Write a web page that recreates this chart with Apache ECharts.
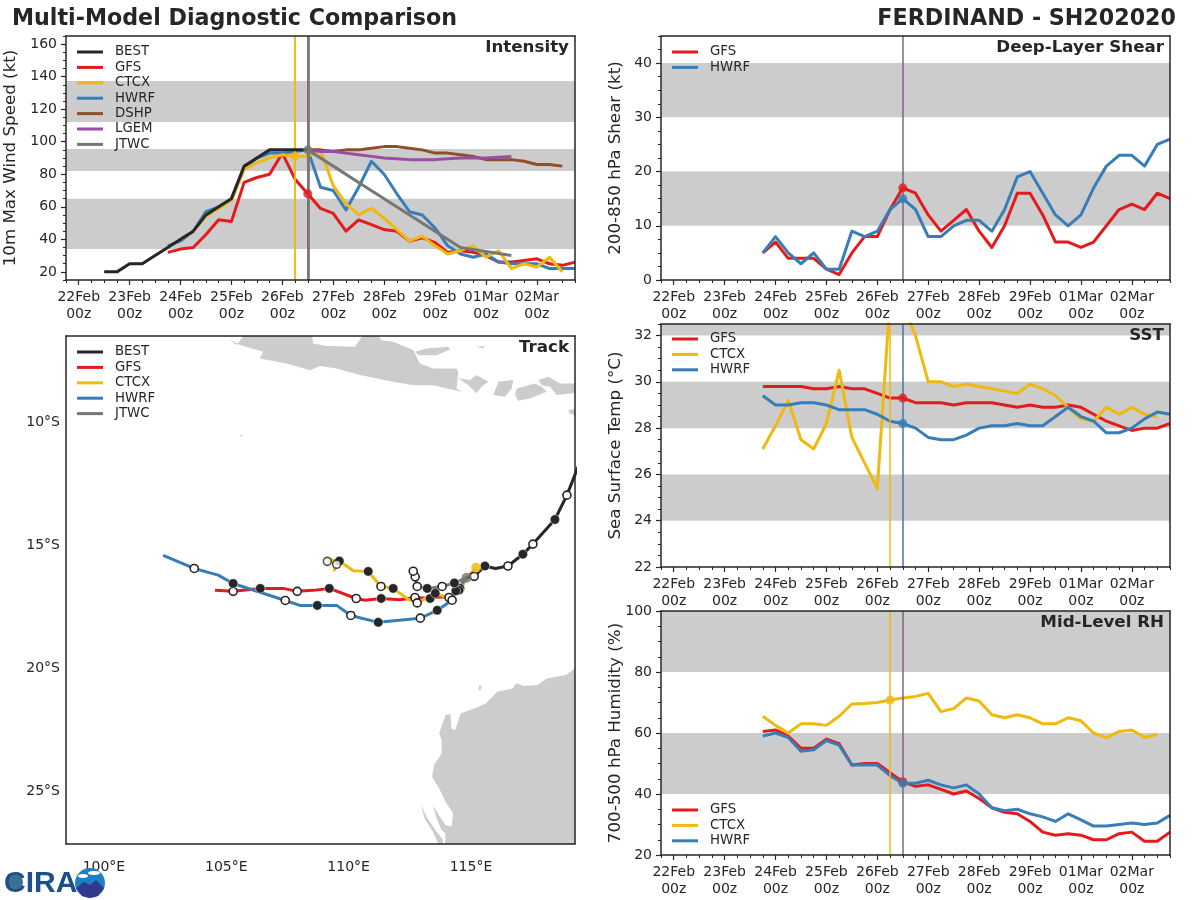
<!DOCTYPE html>
<html><head><meta charset="utf-8">
<style>html,body{margin:0;padding:0;background:#fff}#c{width:1200px;height:900px}</style>
<script src="https://cdn.jsdelivr.net/npm/echarts@6/dist/echarts.min.js"></script>
</head><body><div id="c"></div>
<script>
// ---------- time axis ----------
const dayLabels = ['22Feb','23Feb','24Feb','25Feb','26Feb','27Feb','28Feb','29Feb','01Mar','02Mar'];

// ---------- intensity (kt), six-hourly from the given start hour after 22Feb 00z ----------
const intBEST = [20,20,25,25,30,35,40,45,55,60,65,85,90,95,95,95,95];
const intGFS  = [32,34,35,43,52,51,75,78,80,93,77,68,59,56,45,52,49,46,45,39,41,38,32,33,32,30,26,26,27,28,25,24,26];
const intCTCX = [40,45,54,59,64,83,87,90,92,91,91,95,73,62,55,59,53,46,39,42,36,31,33,36,29,33,22,25,23,29,20];
const intHWRF = [36,39,45,57,60,65,84,90,93,93,94,95,72,70,58,72,88,80,68,57,55,47,36,31,29,31,26,25,25,25,22,22,22];
const intDSHP = [95,95,94,95,95,96,97,97,96,95,93,93,92,91,89,89,89,88,86,86,85];
const intLGEM = [95,94,94,93,92,91,90,89.5,89,89,89,89.5,90,90,90,90.5,91];
const jtwcHours = [108,120,132,144,156,168,180,204];
const intJTWC = [95,85,75,65,55,45,35,30];

// ---------- shear (kt) ----------
const shearGFS  = [5,7,4,4,4,2,1,5,8,8,13,17,16,12,9,11,13,9,6,10,16,16,12,7,7,6,7,10,13,14,13,16,15];
const shearHWRF = [5,8,5,3,5,2,2,9,8,9,13,15,13,8,8,10,11,11,9,13,19,20,16,12,10,12,17,21,23,23,21,25,26];

// ---------- SST (C) ----------
const sstGFS  = [29.8,29.8,29.8,29.8,29.7,29.7,29.8,29.7,29.7,29.5,29.3,29.3,29.1,29.1,29.1,29.0,29.1,29.1,29.1,29.0,28.9,29.0,28.9,28.9,29.0,28.9,28.6,28.3,28.1,27.9,28.0,28.0,28.2];
const sstCTCX = [27.1,28.1,29.2,27.5,27.1,28.2,30.5,27.6,26.5,25.4,33.6,33.3,32,30,30,29.8,29.9,29.8,29.7,29.6,29.5,29.9,29.7,29.4,28.9,28.4,28.3,28.9,28.6,28.9,28.6,28.5];
const sstHWRF = [29.4,29.0,29.0,29.1,29.1,29.0,28.8,28.8,28.8,28.6,28.3,28.2,28.0,27.6,27.5,27.5,27.7,28.0,28.1,28.1,28.2,28.1,28.1,28.5,28.9,28.5,28.3,27.8,27.8,28.0,28.4,28.7,28.6];

// ---------- mid-level RH (%) ----------
const rhGFS  = [60.5,61,59,55,55,58,56.5,49.5,50,50,47,44,42.5,43,41.5,40,41,38.5,35.5,34,33.5,31,27.5,26.5,27,26.5,25,25,27,27.5,24.5,24.5,27.5];
const rhCTCX = [65.5,62.5,60,63,63,62.5,65.5,69.5,69.7,70,70.8,71.5,72,73,67,68,71.5,70.5,66,65,66,65,63,63,65,64,60,58.5,60.5,61,58.5,59.5];
const rhHWRF = [59,60,58.5,54,54.5,57.5,56,49.5,49.5,49.5,46,43.5,43.5,44.5,43,42,43,40,35.5,34.5,35,33.5,32.5,31,33.5,31.5,29.5,29.5,30,30.5,30,30.5,33];

// ---------- shaded bands ----------
const intBands = [[34,65],[82,95.6],[112.2,137.4]];
const shearBands = [[10,20],[30,40]];
const sstBands = [[24,26],[28,30],[32,32.5]];
const rhBands = [[40,60],[80,100]];

// ---------- tracks: lon, lat, marker (1 filled, 0 hollow, -1 none) ----------
const trkBEST = [[119.70,-11.0,1],[118.92,-12.97,0],[118.43,-13.96,1],[117.53,-14.96,0],[117.12,-15.37,1],[116.51,-15.85,0],[116.0,-15.95,-1],[115.57,-15.85,1],[115.13,-16.27,0],[114.82,-16.33,-1]];
const trkGFS = [[115.04,-16.1,-1],[114.82,-16.33,-1],[114.55,-16.75,1],[114.10,-17.13,0],[113.73,-17.1,-1],[113.33,-17.17,1],[112.71,-17.13,0],[112.10,-17.22,-1],[111.33,-17.17,1],[110.67,-17.24,-1],[110.31,-17.17,0],[109.21,-16.76,1],[108.55,-16.84,-1],[107.90,-16.88,0],[107.33,-16.76,-1],[106.39,-16.76,1],[105.28,-16.88,0],[104.54,-16.84,-1]];
const trkCTCX = [[115.21,-15.92,-1],[114.88,-16.30,-1],[114.51,-16.83,1],[114.0,-17.12,-1],[113.54,-16.96,1],[112.80,-17.35,0],[112.44,-17.21,-1],[111.82,-16.76,1],[111.32,-16.68,0],[110.80,-16.07,1],[110.19,-16.04,-1],[109.62,-15.65,1],[109.13,-15.6,-1],[109.51,-15.78,-1],[109.40,-16.06,-1]];
const trkCTCXMarks = [[109.13,-15.66,0],[109.51,-15.78,0]];
const trkHWRF = [[114.82,-16.33,-1],[114.38,-16.86,1],[114.23,-17.24,0],[113.62,-17.65,1],[112.93,-17.97,0],[111.21,-18.14,1],[110.09,-17.86,0],[109.51,-17.45,-1],[108.72,-17.45,1],[108.01,-17.45,-1],[107.41,-17.25,0],[105.28,-16.56,1],[104.67,-16.22,-1],[103.69,-15.95,0],[102.42,-15.42,-1]];
const trkJTWC = [[114.82,-16.33,-1],[114.32,-16.54,1],[113.82,-16.68,0],[113.21,-16.76,1],[112.80,-16.68,0],[112.72,-16.29,0],[112.64,-16.06,0]];

// ---------- land outlines, lon/lat ----------
const landJava = [[105.08,-6.60],[105.42,-6.87],[105.83,-6.33],[108.49,-6.33],[108.55,-6.80],[109.10,-6.91],[110.26,-6.94],[110.67,-6.33],[111.07,-6.33],[111.35,-6.67],[111.82,-6.73],[112.64,-7.07],[112.71,-7.21],[112.91,-7.62],[113.46,-7.82],[114.41,-7.82],[114.48,-7.95],[114.41,-8.63],[114.62,-8.77],[114.21,-8.67],[113.46,-8.50],[112.64,-8.50],[111.82,-8.36],[110.46,-8.09],[109.51,-7.82],[108.83,-7.72],[108.42,-7.89],[107.46,-7.62],[106.37,-7.41],[106.51,-7.14],[105.56,-6.87]];
const landMadura = [[112.71,-7.14],[113.19,-7.01],[114.07,-6.94],[114.14,-7.05],[113.60,-7.28],[112.85,-7.28]];
const landBali = [[114.48,-8.22],[114.96,-8.29],[115.23,-8.09],[115.71,-8.36],[115.43,-8.56],[115.23,-8.83],[114.89,-8.50]];
const landLombok = [[115.91,-8.90],[116.12,-8.36],[116.73,-8.29],[116.66,-8.63],[116.39,-8.97]];
const landSumbawaW = [[116.80,-8.90],[116.87,-8.63],[117.61,-8.43],[117.89,-8.56],[118.09,-8.77],[117.41,-9.04],[116.93,-9.13]];
const landSumbawaE = [[117.75,-8.29],[118.16,-8.16],[118.64,-8.43],[119.18,-8.43],[119.73,-8.22],[119.73,-8.77],[118.50,-8.90],[118.23,-8.56],[117.89,-8.50]];
const landKangean = [[115.23,-6.94],[115.57,-6.91],[115.50,-7.01]];
const landSumba = [[118.98,-9.51],[119.73,-9.38],[119.73,-9.85],[119.04,-9.65]];
const landChristmas = [[105.53,-10.50],[105.69,-10.53],[105.63,-10.60]];
const landAustralia = [[119.6,-19.95],[119.25,-20.01],[118.88,-20.28],[118.10,-20.42],[117.72,-20.69],[117.16,-20.73],[116.85,-20.62],[116.70,-20.83],[116.07,-20.96],[115.60,-21.44],[115.14,-21.64],[114.59,-21.84],[114.35,-22.52],[114.20,-22.45],[114.16,-21.87],[113.96,-21.91],[113.70,-22.65],[113.80,-22.93],[113.80,-23.47],[113.49,-23.94],[113.41,-24.42],[113.73,-24.96],[113.96,-25.43],[114.27,-25.91],[114.20,-26.45],[113.96,-26.38],[113.73,-26.04],[113.45,-25.60],[113.57,-26.04],[113.80,-26.59],[113.96,-26.72],[113.93,-27.5],[119.6,-27.5]];
const landHartog = [[112.95,-25.53],[113.18,-26.04],[113.57,-26.61],[113.85,-26.99],[113.9,-27.5],[113.82,-27.5],[113.45,-26.66],[113.1,-26.1]];
const landBarrow = [[115.33,-20.72],[115.43,-20.7],[115.4,-20.88],[115.3,-20.9]];
const landPolys = [landJava,landMadura,landBali,landLombok,landSumbawaW,landSumbawaE,landKangean,landSumba,landChristmas,landAustralia,landHartog,landBarrow];

// ---------- styling ----------
const FONT = 'DejaVu Sans', INK = '#262626', BAND = '#cccccc';
const COL = {BEST:'#262626',GFS:'#e41a1c',CTCX:'#efb90e',HWRF:'#377eb8',DSHP:'#8f4f29',LGEM:'#984ea3',JTWC:'#777777'};
const dayTicks = dayLabels.map((_, i) => i*24);
const sixTicks = []; for (let h=-6; h<=234; h+=6) sixTicks.push(h);
const step = (a,b,s) => { const r=[]; for (let v=a; v<=b+1e-6; v+=s) r.push(+v.toFixed(3)); return r; };

const grids=[], xAxes=[], yAxes=[], series=[], legends=[];
const titles=[
 {text:'Multi-Model Diagnostic Comparison',left:7,top:3,textStyle:{fontFamily:FONT,fontWeight:'bold',fontSize:22.2,color:INK}},
 {text:'FERDINAND - SH202020',right:19,top:3,textStyle:{fontFamily:FONT,fontWeight:'bold',fontSize:22.2,color:INK}}
];
const lineAxis = (g,pos,min,max) => ({type:'value',gridIndex:g,position:pos,min,max,z:10,silent:true,
  axisLine:{show:true,onZero:false,lineStyle:{color:INK,width:1.5}},axisTick:{show:false},axisLabel:{show:false},splitLine:{show:false}});

function panel(p){
  const g = grids.length, xi = xAxes.length, yi = yAxes.length;
  grids.push({left:p.l,top:p.t,width:p.w,height:p.h,containLabel:false});
  const xMain = {type:'value',gridIndex:g,position:'bottom',min:p.xmin,max:p.xmax,z:10,silent:true,
    axisLine:{show:true,onZero:false,lineStyle:{color:INK,width:1.5}},
    axisTick:{show:p.ticks,length:5,customValues:p.xTicks,lineStyle:{color:INK,width:1.2}},
    axisLabel:{show:true,customValues:p.xTicks,formatter:p.xFmt,margin:p.xMargin,color:INK,fontFamily:FONT,fontSize:14,lineHeight:17},
    splitLine:{show:false}};
  const yMain = {type:'value',gridIndex:g,position:'left',min:p.ymin,max:p.ymax,z:10,silent:true,
    axisLine:{show:true,onZero:false,lineStyle:{color:INK,width:1.5}},
    axisTick:{show:p.ticks,length:5,customValues:p.yTicks,lineStyle:{color:INK,width:1.2}},
    axisLabel:{show:true,customValues:p.yTicks,formatter:p.yFmt,margin:p.yMargin,color:INK,fontFamily:FONT,fontSize:14},
    splitLine:{show:false},
    name:p.yName,nameLocation:'middle',nameGap:p.nameGap,nameRotate:90,nameMoveOverlap:false,
    nameTextStyle:{color:INK,fontFamily:FONT,fontSize:p.nameSize||16.7}};
  xAxes.push(xMain, lineAxis(g,'top',p.xmin,p.xmax));
  yAxes.push(yMain, lineAxis(g,'right',p.ymin,p.ymax));
  if (p.ticks) {
    const g2 = grids.length;
    grids.push({left:p.l,top:p.t,width:p.w,height:p.h,containLabel:false});
    const minor = (pos,min,max,vals)=>({type:'value',gridIndex:g2,position:pos,min,max,silent:true,
      axisLine:{show:false,onZero:false},axisTick:{show:true,length:3,customValues:vals,lineStyle:{color:INK,width:1}},
      axisLabel:{show:false},splitLine:{show:false}});
    xAxes.push(minor('bottom',p.xmin,p.xmax,sixTicks));
    yAxes.push(minor('left',p.ymin,p.ymax,p.yMinor));
  }
  if (p.bands) series.push({type:'line',name:'bands'+g,data:[],xAxisIndex:xi,yAxisIndex:yi,z:1,silent:true,
    markArea:{silent:true,itemStyle:{color:BAND},data:p.bands.map(b=>[{yAxis:b[0]},{yAxis:b[1]}])}});
  titles.push({text:p.title,right:1200-(p.l+p.w)+1,top:p.t-2,textStyle:{fontFamily:FONT,fontWeight:'bold',fontSize:16.7,color:INK}});
  legends.push({data:p.legend,orient:'vertical',left:p.l+6,top:p.legendTop,itemWidth:26,itemHeight:3,itemGap:1.4,icon:'rect',
    selectedMode:false,itemStyle:{borderWidth:0},lineStyle:{width:0},
    textStyle:{color:INK,fontFamily:FONT,fontSize:13.3,lineHeight:14,padding:[0,0,0,7]}});
  return {xi,yi};
}

const at = (start, vals) => vals.map((v,i)=>[start+i*6,v]);
function model(ax,name,data,z){
  series.push({type:'line',name,data,xAxisIndex:ax.xi,yAxisIndex:ax.yi,z:z||3,symbol:'none',silent:true,
    lineStyle:{color:COL[name],width:3,join:'round'},itemStyle:{color:COL[name]},clip:true});
}
function initMark(ax,name,hour,val,width,opacity,size){
  series.push({type:'scatter',name:'init'+name,xAxisIndex:ax.xi,yAxisIndex:ax.yi,z:5,silent:true,
    data: val==null?[]:[[hour,val]],symbol:'circle',symbolSize:size||9,itemStyle:{color:COL[name]},
    markLine:{silent:true,symbol:'none',label:{show:false},animation:false,z:4,
      lineStyle:{color:COL[name],width:width,type:'solid',opacity:opacity==null?1:opacity},data:[{xAxis:hour}]}});
}
const xFmt = v => { const i=dayTicks.indexOf(v); return i<0?'':dayLabels[i]+'\n00z'; };
const base = {w:509,h:244,xmin:-6,xmax:234,xTicks:dayTicks,xFmt,ticks:true,xMargin:9,yMargin:9,yFmt:v=>String(v)};

// ---------- Intensity ----------
let a = panel({...base,l:66,t:36,ymin:15,ymax:165,yTicks:step(20,160,20),yMinor:step(15,165,5),bands:intBands,
  yName:'10m Max Wind Speed (kt)',nameGap:47,title:'Intensity',legend:['BEST','GFS','CTCX','HWRF','DSHP','LGEM','JTWC'],legendTop:40});
initMark(a,'CTCX',102,null,1.5);
model(a,'GFS',at(42,intGFS)); model(a,'HWRF',at(42,intHWRF)); model(a,'CTCX',at(48,intCTCX));
model(a,'DSHP',at(108,intDSHP)); model(a,'LGEM',at(108,intLGEM)); model(a,'BEST',at(12,intBEST),4);
model(a,'JTWC',jtwcHours.map((h,i)=>[h,intJTWC[i]]),4);
initMark(a,'GFS',108,68,1.5); initMark(a,'CTCX',102,91,1.5); initMark(a,'JTWC',108,95,3,0.85);

// ---------- Shear ----------
a = panel({...base,l:661,t:36,ymin:0,ymax:45,yTicks:step(0,40,10),yMinor:step(0,45,2.5),bands:shearBands,
  yName:'200-850 hPa Shear (kt)',nameGap:36.5,title:'Deep-Layer Shear',legend:['GFS','HWRF'],legendTop:40});
model(a,'GFS',at(42,shearGFS)); model(a,'HWRF',at(42,shearHWRF));
initMark(a,'GFS',108,17,1.5,0.6); initMark(a,'HWRF',108,15,1.5,0.6);

// ---------- SST ----------
a = panel({...base,l:661,t:324,h:243,ymin:22,ymax:32.5,yTicks:step(22,32,2),yMinor:step(22,32.5,0.5),bands:sstBands,
  yName:'Sea Surface Temp (°C)',nameGap:36.5,title:'SST',legend:['GFS','CTCX','HWRF'],legendTop:327});
model(a,'GFS',at(42,sstGFS)); model(a,'CTCX',at(42,sstCTCX)); model(a,'HWRF',at(42,sstHWRF));
initMark(a,'CTCX',102,null,1.5); initMark(a,'GFS',108,29.3,1.5,0.3); initMark(a,'HWRF',108,28.2,1.5,0.9);

// ---------- RH ----------
a = panel({...base,l:661,t:611,ymin:20,ymax:100,yTicks:step(20,100,20),yMinor:step(20,100,5),bands:rhBands,
  yName:'700-500 hPa Humidity (%)',nameGap:36.5,title:'Mid-Level RH',legend:['GFS','CTCX','HWRF'],legendTop:798});
model(a,'GFS',at(42,rhGFS)); model(a,'CTCX',at(42,rhCTCX)); model(a,'HWRF',at(42,rhHWRF));
initMark(a,'CTCX',102,70.8,1.5); initMark(a,'GFS',108,44,1.5,0.6); initMark(a,'HWRF',108,43.5,1.5,0.6);

// ---------- Track ----------
a = panel({...base,l:66,t:336,h:508,xmin:98.45,xmax:119.25,ymin:-27.15,ymax:-6.5,ticks:false,
  xTicks:[100,105,110,115],xFmt:v=>v+'°E',xMargin:15,yTicks:[-25,-20,-15,-10],yFmt:v=>(-v)+'°S',yMargin:6,yName:'',
  title:'Track',legend:['BEST','GFS','CTCX','HWRF','JTWC'],legendTop:340});
series.push({type:'custom',name:'land',xAxisIndex:a.xi,yAxisIndex:a.yi,z:1,clip:true,silent:true,
  data:landPolys.map((_,i)=>[i,0]),
  renderItem:(params,api)=>({type:'polygon',shape:{points:landPolys[api.value(0)].map(p=>api.coord(p))},style:{fill:BAND}})});
const markDot = m => m<0 ? {symbol:'none'} :
  {symbol:'circle',symbolSize:m===1?9.5:8,itemStyle:m===1?{color:INK,borderColor:'#fff',borderWidth:0.5}:{color:'#fff',borderColor:INK,borderWidth:1.6}};
function track(name,pts,z){
  series.push({type:'line',name,xAxisIndex:a.xi,yAxisIndex:a.yi,z:z||3,silent:true,clip:true,showSymbol:true,showAllSymbol:true,
    lineStyle:{color:COL[name],width:3,join:'round'},itemStyle:{color:COL[name]},
    data:pts.map(p=>({value:[p[0],p[1]],...markDot(p[2])}))});
}
track('GFS',trkGFS); track('CTCX',trkCTCX); track('HWRF',trkHWRF); track('JTWC',trkJTWC,4); track('BEST',trkBEST,4);
series.push({type:'scatter',name:'ctcxHollow',xAxisIndex:a.xi,yAxisIndex:a.yi,z:5,silent:true,data:trkCTCXMarks,
  symbol:'circle',symbolSize:8,itemStyle:{color:'#fff',borderColor:INK,borderWidth:1.6}});
series.push({type:'scatter',name:'trackInitCTCX',xAxisIndex:a.xi,yAxisIndex:a.yi,z:5,silent:true,data:[trkCTCX[0].slice(0,2)],
  symbol:'circle',symbolSize:10,itemStyle:{color:COL.CTCX}});
series.push({type:'scatter',name:'trackInitJTWC',xAxisIndex:a.xi,yAxisIndex:a.yi,z:6,silent:true,data:[trkJTWC[0].slice(0,2)],
  symbol:'circle',symbolSize:10,itemStyle:{color:COL.JTWC}});

// ---------- CIRA logo ----------
const logo = [
 {type:'text',left:4,top:869,z:20,style:{text:'CIRA',fontFamily:'Liberation Sans',fontWeight:'bold',fontSize:30,fill:'#1d4f8c'}},
 {type:'circle',shape:{cx:16,cy:882,r:7},z:21,style:{fill:'#3d6f8f'}},
 {type:'circle',shape:{cx:90,cy:883,r:15},z:22,style:{fill:'#1f7fc4'}},
 {type:'polygon',shape:{points:[[76,888],[84,882],[90,885],[96,880],[104,888],[98,896],[90,898],[82,896]]},z:23,style:{fill:'#2f3a8f'}},
 {type:'ellipse',shape:{cx:83,cy:876,rx:5,ry:2},z:23,style:{fill:'#fff'}},
 {type:'ellipse',shape:{cx:94,cy:873,rx:6,ry:2},z:23,style:{fill:'#fff'}}
];

const chart = echarts.init(document.getElementById('c'),null,{renderer:'canvas'});
chart.setOption({animation:false,backgroundColor:'#fff',title:titles,legend:legends,grid:grids,xAxis:xAxes,yAxis:yAxes,series,graphic:logo,tooltip:{show:false}});
</script></body></html>
